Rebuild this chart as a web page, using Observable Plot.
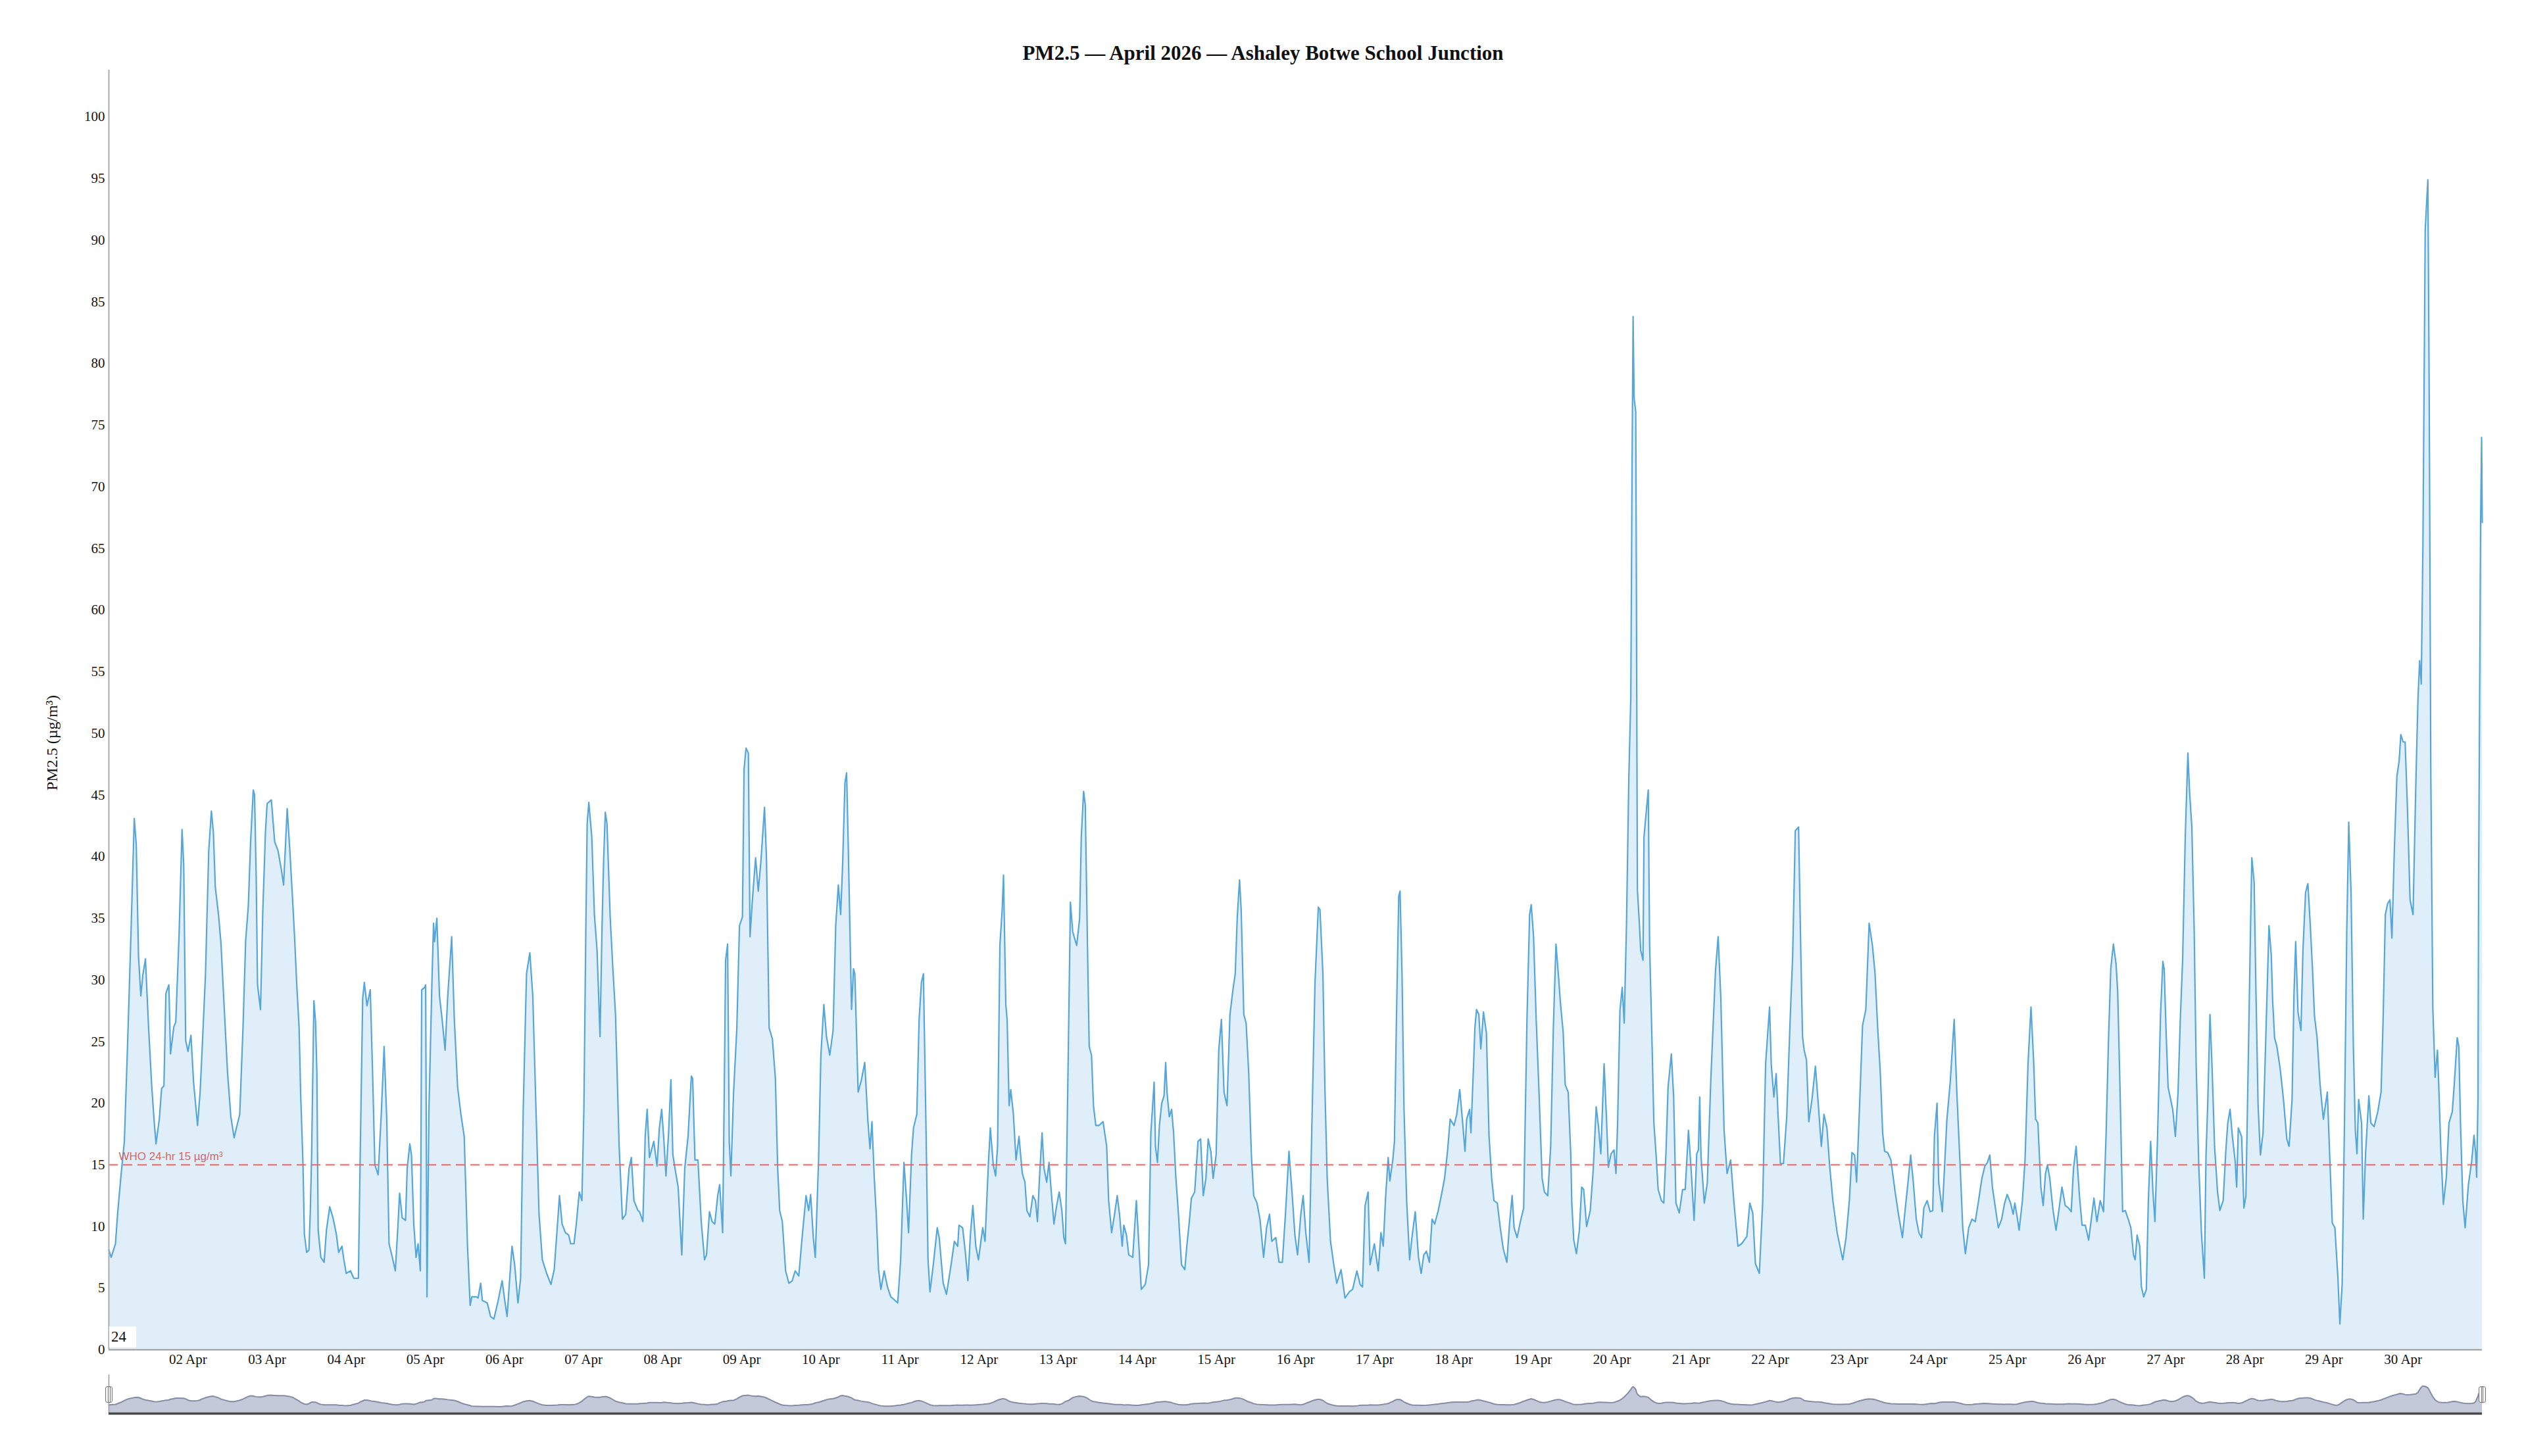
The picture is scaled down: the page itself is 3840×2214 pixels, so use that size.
<!DOCTYPE html>
<html>
<head>
<meta charset="utf-8">
<script src="https://cdn.jsdelivr.net/npm/d3@7"></script>
<script src="https://cdn.jsdelivr.net/npm/@observablehq/plot@0.6"></script>
<style>
  html, body { margin: 0; padding: 0; background: #fff; }
  #wrap { position: relative; width: 3840px; height: 2214px; overflow: hidden; background: #fff; }
  #title { position: absolute; left: 0; top: 64px; width: 3840px; text-align: center;
           font: bold 31px "Liberation Serif", "Times New Roman", serif; line-height: 34px; color: #111; }
  #main { position: absolute; left: 0; top: 0; }
  #nav { position: absolute; left: 0; top: 2085px; }
  .box24 { position: absolute; left: 166px; top: 2017px; width: 41px; height: 32px; background: #fff;
           font: 23px "Liberation Serif", "Times New Roman", serif; line-height: 32px; padding-left: 3px;
           box-sizing: border-box; color: #111; }
  .handle { position: absolute; top: 2108px; width: 11px; height: 25px; box-sizing: border-box;
            border: 1.5px solid #777; border-radius: 3px;
            background: linear-gradient(to right, transparent 3px, #777 3px, #777 4px, transparent 4px,
                        transparent 5.5px, #777 5.5px, #777 6.5px, transparent 6.5px), #f2f2f2; }
</style>
</head>
<body>
<div id="wrap">
  <div id="main"></div>
  <div id="nav"></div>
  <div id="title"></div>
  <div class="box24" id="box24"></div>
  <div class="handle" style="left:160px"></div>
  <div class="handle" style="left:3768px"></div>
</div>
<script>
// ---- Text ----
const chartTitle = "PM2.5 — April 2026 — Ashaley Botwe School Junction";
const yLabel = "PM2.5 (µg/m³)";
const whoLabel = "WHO 24-hr 15 µg/m³";
const whoLimit = 15;
const boxLabel = "24";

// ---- Ticks ----
const yTicks = [0, 5, 10, 15, 20, 25, 30, 35, 40, 45, 50, 55, 60, 65, 70, 75, 80, 85, 90, 95, 100];
const dayTickDays = [2,3,4,5,6,7,8,9,10,11,12,13,14,15,16,17,18,19,20,21,22,23,24,25,26,27,28,29,30];

// ---- Readings: [hours since 01 Apr 2026 00:00, PM2.5 µg/m³] ----
const week1 = [
[0,8.1],[0.7,7.5],[2,8.6],[2.7,11.2],[3.7,14.2],[4.7,16.9],[5.7,25],[6.7,33.7],[7.7,43.1],[8.3,41],[9,31.9],[9.7,28.7],[10.3,30.4],[11.1,31.7],[12,26.4],[13,21.4],[13.7,18.7],[14.3,16.7],[15.3,18.7],[16,21.2],[16.7,21.4],[17.3,28.9],[18.2,29.6],[18.7,24],[19.7,26.2],[20.3,26.6],[21.3,33.7],[22.2,42.2],[22.7,39.4],[23.3,25.1],
[24,24.2],[24.9,25.5],[25.7,21.7],[26.9,18.2],[27.7,21],[28.3,24.4],[29.3,30.4],[30.3,40.5],[31.1,43.7],[31.7,42],[32.3,37.5],[33.3,35.2],[34,33],[35,27.7],[36,22.5],[37,18.9],[38,17.2],[38.7,18],[39.7,19.1],[40.7,26.2],[41.5,33.2],[42.3,36],[43,41.2],[43.8,45.4],[44.2,45],[44.7,38.2],[45.1,29.6],[46,27.6],[46.7,35.6],[47.5,42],
[48,44.3],[49.3,44.6],[50.3,41.2],[51.3,40.5],[52.3,39],[53,37.7],[53.5,40.5],[54.1,43.9],[54.9,40.5],[55.7,36.7],[56.3,33.7],[57,29.6],[57.7,26.2],[58.2,20.6],[58.9,15],[59.3,9.4],[60,7.9],[60.7,8.1],[61.1,11.2],[61.5,15.7],[62.2,28.3],[62.7,26.6],[63.1,22.5],[63.5,9.7],[64.3,7.5],[65.3,7.1],[66,9.7],[67,11.6],[68,10.7],[69,9.4],[69.7,7.9],[70.7,8.4],[71.3,7.3],
[72,6.2],[73.3,6.4],[74.3,5.8],[75.7,5.8],[76.2,15],[77,28.5],[77.5,29.8],[78.3,27.9],[79.3,29.2],[80,22.5],[80.7,15],[81.7,14.2],[82.7,19.5],[83.5,24.6],[84.3,18.7],[85,8.6],[86,7.5],[86.9,6.4],[87.7,10.1],[88.2,12.7],[89,10.7],[90,10.5],[90.5,14.7],[91.3,16.7],[91.8,15.8],[92.5,10.2],[93.2,7.5],[93.8,8.6],[94.5,6.4],[94.9,29.2],[95.8,29.4],
[96.1,29.6],[96.5,4.3],[97.1,19.5],[98,29.8],[98.5,34.6],[98.8,33.1],[99.5,35],[100.3,28.7],[101.1,26.8],[102,24.3],[102.8,28.7],[104,33.5],[104.8,26.8],[105.8,21.3],[106.8,19.1],[107.8,17.3],[108.8,8.4],[109.6,3.6],[110.1,4.3],[111.5,4.3],[112,4.2],[112.8,5.4],[113.3,4.0],[114.8,3.8],[115.8,2.7],[116.8,2.5],[118.1,4.0],[119.3,5.6],
[120.1,4.0],[120.8,2.7],[121.5,5.4],[122.3,8.4],[123.1,6.9],[124.1,3.8],[124.9,5.8],[125.7,19.5],[126.7,30.5],[127.7,32.2],[128.6,28.7],[129.5,20.2],[130.5,11],[131.5,7.3],[132.8,6.2],[134.1,5.3],[135.1,6.5],[136.1,10.2],[136.7,12.5],[137.5,10.2],[138.5,9.5],[139.5,9.3],[140.1,8.6],[141.1,8.6],[141.8,10.2],[142.7,12.8],[143.5,12.1],
[144.1,19.5],[144.7,34.2],[145.1,42.7],[145.6,44.4],[146.5,41.6],[147.3,35.3],[148.1,32.4],[149,25.4],[149.6,34.2],[150.1,39.8],[150.6,43.6],[151.1,42.7],[152.1,35],[152.9,30.9],[153.7,27.2],[154.8,16.5],[155.8,10.6],[156.8,11],[157.8,14.7],[158.5,15.6],[159.3,12.1],[160.5,11.3],[161,11.2],[162,10.4],[162.7,17.3],[163.3,19.5],[164,15.6],[165.3,16.9],[166.3,14.9],[167,18],[167.7,19.5]
];
const week2 = [
[168.3,17.3],[169,14.1],[169.8,17.6],[170.5,21.9],[171.1,15.8],[172,14.3],[172.7,13.2],[173.8,7.7],[174.7,14.7],[175.7,17.3],[176.7,22.2],[177.1,22],[177.8,15.4],[178.7,15.4],[179.7,10.4],[180.7,7.3],[181.3,7.7],[182.2,11.2],[183,10.4],[183.8,10.2],[184.7,12.5],[185.3,13.4],[186.2,9.5],[186.7,21.3],[187.1,31.6],[187.7,32.9],[188.2,16.9],[188.7,14.1],[189.5,20.8],[190.5,26.1],[191.3,34.4],
[192.2,35.1],[192.7,47.1],[193.3,48.8],[194,48.4],[194.5,33.5],[195.3,36.8],[196.2,39.9],[197,37.2],[197.8,39.6],[198.9,44],[199.5,39.8],[200.3,26.1],[201.3,25.2],[202.2,22],[202.9,14.7],[203.5,11.3],[204.3,10.4],[205.3,6.4],[206.3,5.4],[207.3,5.6],[208.2,6.4],[209.3,6.0],[210.3,9.1],[211.5,12.5],[212.3,11.3],[212.9,12.6],[213.7,9.1],[214.3,7.5],[215.3,15.4],
[216,23.9],[216.9,28],[217.7,25.4],[218.7,23.9],[219.7,25.9],[220.5,34.4],[221.3,37.7],[222,35.3],[222.6,39.4],[223.3,46],[223.8,46.8],[224.3,40.9],[225.3,27.6],[225.9,30.9],[226.3,30.5],[227.3,20.9],[228.3,21.9],[229.3,23.3],[230.3,18.4],[230.9,16.3],[231.5,18.5],[232.2,13.9],[232.8,11],[233.5,6.5],[234.2,4.9],[235.2,6.4],[236.2,5.1],[237.2,4.3],[238.5,4.0],[239.3,3.8],
[240.2,7.3],[241.2,15.2],[242,12.1],[242.6,9.5],[243.5,15.8],[244.1,18],[245.1,19.1],[245.8,26.8],[246.5,29.8],[247.1,30.5],[247.8,19.5],[248.5,7.3],[249.1,4.7],[250.1,6.9],[251.3,9.9],[251.9,9.1],[253.1,5.4],[254.1,4.5],[255.5,6.9],[256.5,8.8],[257.5,8.4],[257.9,10.1],[259,9.9],[259.8,8],[260.6,5.6],[261.4,9.5],[262.1,11.7],[263,8.4],[263.8,7.3],
[265.1,9.9],[265.8,8.8],[266.8,15],[267.4,18],[268.3,15],[269,14.1],[269.6,16.5],[270.3,32.8],[271,35.7],[271.4,38.5],[272.1,28],[272.5,26.8],[273.1,19.8],[273.6,21.1],[274.4,19.1],[275.2,15.4],[276.1,17.3],[277.1,14.3],[277.9,13.6],[278.5,11.3],[279.4,10.8],[280.3,12.5],[281.1,12.1],[281.7,10.4],[282.3,13.9],[283.1,17.6],[283.7,14.7],[284.5,13.6],[285.2,15.2],[285.9,12.8],[286.7,10.2],[287.4,11.5],
[288.3,12.8],[289.1,11.3],[289.7,9.1],[290.2,8.6],[291.1,25],[291.7,36.3],[292.4,33.9],[293.6,32.8],[294.5,35],[295,41.6],[295.7,45.3],[296.2,44.2],[296.9,32.4],[297.4,24.6],[298.1,23.9],[298.7,19.8],[299.4,18.2],[300.4,18.2],[301.6,18.5],[302.7,16.5],[303.3,12.1],[304.2,9.5],[305.1,11],[305.9,12.5],[306.6,11],[307.4,8.4],[307.9,10.1],[308.7,9.3],[309.4,7.7],[310.6,7.5],[311.7,12.1],
[312.4,8.8],[313.2,4.9],[314.4,5.3],[315.4,6.9],[316.1,17.6],[317.1,21.7],[317.5,16.5],[318.1,15.2],[318.7,18.2],[319.4,20],[320.1,20.6],[320.6,23.3],[321,20.9],[321.7,18.9],[322.4,19.5],[323,17.6],[323.7,13.9],[324.4,11.3],[325.4,6.9],[326.4,6.5],[327,8.4],[327.7,10.2],[328.4,12.3],[329.4,12.8],[330.4,16.9],[331.2,17.1],[332,12.5],[332.8,13.9],[333.5,17.1],[334.3,16.1],[335,13.9],[335.9,15.8]
];
const week3 = [
[336.7,24.3],[337.5,26.8],[338.3,20.9],[339.2,19.8],[340.1,27.2],[341,29.2],[341.7,30.5],[342.3,35],[343,38.1],[343.5,35.7],[344.3,27.2],[345,26.5],[345.8,22.4],[346.6,15.8],[347.3,12.5],[348.3,11.9],[349.2,10.6],[350.3,7.5],[351.2,9.9],[352.1,11],[352.8,8.8],[354,9.1],[355,7.1],[356,7.1],[357,11.3],[358,16.1],[359,12.5],[359.8,9.3],
[360.6,7.7],[361.6,11],[362.3,12.5],[363.1,9.5],[364.1,7.1],[364.9,17.6],[365.9,29.8],[366.9,35.9],[367.4,35.7],[368.3,30.5],[368.9,21.3],[369.6,13.9],[370.6,8.8],[371.6,6.9],[372.5,5.4],[373.8,6.5],[375,4.2],[376.3,4.7],[377.3,4.9],[378.6,6.4],[379.6,5.3],[380.3,5.1],[381.1,11.7],[382,12.8],[382.6,6.9],[383.9,8.6],
[385.1,6.4],[385.9,9.5],[386.6,8.4],[387.3,12.3],[388.1,15.6],[388.6,13.7],[389.5,15.4],[390,16.9],[390.6,26.8],[391.3,36.8],[391.7,37.2],[392.3,30.5],[392.9,19.5],[393.7,12.1],[394.6,7.3],[395.3,9.1],[396.3,11.2],[397.3,7.5],[398.1,6.2],[398.9,7.7],[399.7,8],[400.6,7.1],[401.4,10.6],[402.2,10.2],[403.2,11.2],[404.2,12.5],[405.2,13.9],[406.1,16.1],[406.9,18.7],
[408.1,18.2],[408.9,19.1],[409.8,21.1],[410.6,18.7],[411.4,16.1],[411.9,18.7],[412.8,19.5],[413.2,17.6],[413.9,22.4],[414.4,26.1],[414.9,27.6],[415.6,27.2],[416.2,24.4],[417,27.4],[417.9,25.7],[418.7,17.3],[419.5,13.9],[420.2,12.1],[421.2,11.9],[422.1,9.9],[423,8.2],[424.1,7.1],[424.9,10.2],[425.7,12.5],[426.3,9.9],[427.2,9.1],[428.2,10.4],[429.2,11.5],
[430.2,26.8],[431,35.3],[431.5,36.1],[432.2,33.5],[433,26.8],[433.8,21.3],[434.8,13.9],[435.5,12.8],[436.5,12.5],[437.4,16.5],[438.2,26.1],[439,32.9],[439.8,30.2],[440.3,28.3],[441.2,25.7],[441.8,21.5],[442.7,20.9],[443.5,15.8],[443.8,11.9],[444.4,8.9],[445.2,7.8],[446.1,9.7],[446.8,13.2],[447.4,13],[448.3,10],[449.4,11.3],[450.3,14.6],[451.2,19.7],[451.9,18.1],[452.6,15.9],[453.6,23.2],[454.3,18.9],[454.9,14.8],[455.7,15.9],
[456.6,16.2],[457.2,14.3],[457.7,18.4],[458.4,27.5],[459.1,29.4],[459.7,26.5],[460.4,34.6],[461.1,46.4],[461.7,52.9],[462.1,72.4],[462.4,83.8],[462.7,77.2],[463.2,76.1],[463.4,61.6],[463.7,37.3],[464.3,34.6],[464.7,32.4],[465.4,31.6],[465.7,41.6],[466.4,43.7],[467,45.4],[467.4,32.9],[468,26.5],[468.7,18.4],[469.4,15.7],[470,13],[471,12.1],[471.7,11.9],[472.4,16.2],[473,21.3],[474,24],[474.7,20.5],[475.4,11.9],[476.4,11.1],[477.4,13],[478.2,13],[479.2,17.8],
[480,14.6],[480.9,10.5],[481.7,15.9],[482.2,16.2],[482.6,20.5],[483,15.7],[484,11.9],[484.9,13.5],[486,22.1],[487.4,30.8],[488.2,33.5],[489,28.6],[490,17.8],[490.9,14.3],[492,15.4],[493,11.9],[494.2,8.4],[495.3,8.6],[496.9,9.2],[497.8,11.9],[498.7,11.1],[499.5,7.0],[500.7,6.2],[501.7,11.9],[502.6,23.2],[503.3,25.9],[503.8,27.8]
];
const week4 = [
[504.3,23.2],[505.1,20.5],[505.8,22.4],[506.4,18.9],[507.1,15.1],[508,15.1],[509,18.9],[510,26.5],[510.8,31.9],[511.6,42.1],[512.6,42.4],[513.3,31.9],[513.8,25.4],[514.3,24.3],[515,23.5],[515.7,18.5],[516.7,20.4],[517.7,23],[518.5,20.2],[519.5,16.5],[520.3,19.1],[521.2,18],[522,15],[523,12.1],[524.3,9.5],[526,7.3],[527,9.1],
[528,12.1],[528.8,16],[529.6,15.8],[530.2,13.6],[531,19.1],[532,26.3],[533,27.6],[534,34.6],[535,32.8],[535.8,30.5],[536.6,26.1],[537.4,22.4],[538.1,17.6],[538.7,16.1],[539.6,16],[540.6,15.4],[541.9,12.8],[542.9,11],[544.1,9.1],[544.9,11.3],[545.8,13.6],[546.6,15.8],[547.4,13.6],[548.3,10.6],[549.1,9.5],[549.9,9.1],[550.6,11.5],[551.6,12.1],
[552.5,11.2],[553.3,11.3],[553.8,17.3],[554.6,20],[555.1,13.6],[556.2,11.2],[557.6,18.7],[558.6,21.7],[559.8,26.8],[560.6,20.9],[561.6,15],[562.4,9.9],[563.2,7.8],[564.2,9.9],[565.2,10.6],[566.2,10.4],[567.2,12.1],[568.2,13.9],[569.1,14.9],[569.9,15.2],[570.6,15.8],[571.4,13.2],[572.2,11.7],[573.2,9.9],[574.2,10.6],[575.1,11.9],
[575.9,12.6],[576.9,11.9],[577.7,11],[578.2,11.9],[578.9,10.8],[579.5,9.7],[580.5,12.1],[581.3,15.4],[582.2,23.2],[583.1,27.8],[583.9,23.5],[584.5,18.7],[585.2,18.4],[586.1,13.2],[586.8,11.7],[587.5,14.3],[588.1,15],[588.8,13.9],[589.8,11.3],[590.7,9.7],[591.5,11.2],[592.5,13.2],[593.5,11.7],[594.5,11.5],[595.3,11.2],[596,14.7],[596.8,16.5],[597.8,12.5],[598.6,10.1],[599.6,10.1],
[600.6,8.9],[601.4,10.6],[602.2,12.3],[603.1,10.4],[604.1,12.1],[605.1,11.2],[605.9,17.6],[606.6,25],[607.3,30.9],[608.1,32.9],[608.9,31.3],[609.4,29.1],[610.1,21.3],[610.9,11.2],[611.7,11.3],[612.6,10.6],[613.4,9.9],[614.2,7.7],[614.7,7.3],[615.3,9.3],[616.1,8.4],[616.6,5.1],[617.3,4.3],[618.1,4.9],[618.7,12.1],[619.4,16.9],[620.1,12.8],[620.7,10.4],[621.5,17.3],[622.4,27.2],[623.1,31.5],
[623.5,30.9],[624.1,25.7],[624.7,21.3],[625.4,20.4],[626.1,19.5],[626.9,17.3],[627.7,20.8],[628.4,26.8],[629.1,31.6],[629.9,41.6],[630.7,48.4],[631.2,45.3],[631.9,42.4],[632.6,34.2],[633.2,23.2],[634,15],[634.8,9.5],[635.7,5.8],[636.2,15.8],[636.7,19.8],[637.4,27.2],[638,23.2],[638.8,16.5],[639.7,12.8],[640.4,11.3],[641.4,12.1],[642.2,16.1],[642.8,18.4],[643.5,19.5],[644.2,17.3],[645,15.4],[645.5,13.2],[646,18],[647,17.3],
[647.7,11.5],[648.3,12.5],[649,23.2],[649.7,34.2],[650.1,39.9],[650.8,37.9],[651.3,29.8],[652,19.8],[652.7,15.8],[653.5,17.6],[654.3,25],[655.3,34.4],[656,32],[656.4,28.4],[657,25.3],[657.7,24.6],[658.7,22.8],[659.7,20.3],[660.7,17.1],[661.4,16.5],[662.3,20.3],[662.9,29],[663.4,33.1],[664.1,27.4],[665,25.9],[665.6,32.4],[666.4,37.1],[667.1,37.8],[667.8,34.6],[668.5,30.9],[669.1,27.1],[669.9,25.3],[670.8,21.5],[671.8,18.7]
];
const week5 = [
[673,20.9],[673.7,15.9],[674.5,10.3],[675.3,9.9],[676.2,5.9],[676.8,2.1],[677.5,5.3],[678.2,18.4],[678.9,34],[679.5,42.8],[680.2,37.1],[680.9,24.6],[681.5,17.8],[682,15.9],[682.5,20.3],[683.4,18.4],[683.9,10.6],[684.6,15.9],[685.6,20.6],[686.2,18.4],[687.2,18.1],[688.3,19.3],[689.3,20.9],[689.9,26.5],[690.6,35.3],[691.3,36.2],[692,36.5],[692.6,33.4],[693.3,40.3],[694.1,46.5],[694.8,47.8],[695.3,49.9],
[696,49.3],[696.6,49.3],[697.3,44],[698.1,36.5],[699,35.3],[699.9,46.5],[700.5,52.8],[701,55.9],[701.5,54],[702,65.3],[702.7,90.9],[703.5,94.9],[703.9,77.8],[704.4,46.5],[705,27.8],[705.7,22.1],[706.4,24.3],[706.8,21.5],[707.4,16.5],[708.2,11.8],[709.1,14],[709.9,18.4],[710.9,19.3],[711.5,21.5],[712.4,25.3],[712.9,24.6],[713.4,18.4],[714.1,12.1],[714.8,9.9],[715.8,13.4],[716.8,15.3],[717.5,17.4],[718,15.9],[718.3,14],[718.7,20.3],[718.9,38.4],[719.5,67.1],[719.8,74],[720,67.1]
];

// ---- Build table ----
const startMs = Date.UTC(2026, 3, 1);
const endMs = Date.UTC(2026, 4, 1);
const data = [...week1, ...week2, ...week3, ...week4, ...week5]
  .map(([h, v]) => ({date: new Date(startMs + h * 3600e3), value: v}));
const xDomain = [new Date(startMs), new Date(endMs)];
const dayTicks = dayTickDays.map(d => new Date(Date.UTC(2026, 3, d)));
const yDomain = [0, 103.8];

document.getElementById("title").textContent = chartTitle;
document.getElementById("box24").textContent = boxLabel;

const serif = '"Liberation Serif", "Times New Roman", serif';
const lineColor = "#55a6db";
const fillColor = "#e0eefa";

const main = Plot.plot({
  width: 3840,
  height: 2100,
  marginTop: 106,
  marginBottom: 48,
  marginLeft: 165,
  marginRight: 67,
  style: {fontFamily: serif, fontSize: "21px", color: "#111", background: "transparent"},
  x: {type: "utc", domain: xDomain},
  y: {domain: yDomain},
  marks: [
    Plot.areaY(data, {x: "date", y: "value", fill: fillColor}),
    Plot.lineY(data, {x: "date", y: "value", stroke: lineColor, strokeWidth: 2.2, strokeLinejoin: "round"}),
    Plot.ruleY([whoLimit], {stroke: "#e06a6a", strokeOpacity: 0.8, strokeWidth: 2.5, strokeDasharray: "14,8"}),
    Plot.text([whoLabel], {text: d => d, y: () => whoLimit, frameAnchor: "left", dx: 15, dy: -7,
      textAnchor: "start", lineAnchor: "bottom", fill: "#d06868",
      fontFamily: '"Liberation Sans", Arial, sans-serif', fontSize: 17}),
    Plot.ruleY([0], {stroke: "#999", strokeWidth: 2}),
    Plot.ruleX([xDomain[0]], {stroke: "#aaa", strokeWidth: 2}),
    Plot.axisX({ticks: dayTicks, tickFormat: d3.utcFormat("%d Apr"), tickSize: 0, tickPadding: 7, label: null}),
    Plot.axisY({ticks: yTicks, tickSize: 0, tickPadding: 6, label: null}),
    Plot.text([yLabel], {text: d => d, frameAnchor: "left", rotate: -90, dx: -86, dy: 50, textAnchor: "middle",
      fontSize: 24, fontFamily: serif, fill: "#111"})
  ]
});
document.getElementById("main").appendChild(main);

// ---- Navigator ----
const navDomain = [-20, 111];
const nav = Plot.plot({
  width: 3840,
  height: 70,
  marginTop: 5,
  marginBottom: 6,
  marginLeft: 165,
  marginRight: 67,
  style: {background: "transparent"},
  x: {type: "utc", domain: xDomain, axis: null},
  y: {domain: navDomain, axis: null, clamp: true},
  marks: [
    Plot.areaY(data, Plot.windowY({k: 6, reduce: "mean"},
      {x: "date", y1: navDomain[0], y2: "value", fill: "#c3c9d9"})),
    Plot.lineY(data, Plot.windowY({k: 6, reduce: "mean"},
      {x: "date", y: "value", stroke: "#858ca3", strokeWidth: 2})),
    Plot.ruleX([xDomain[0]], {stroke: "#999", strokeWidth: 1.5}),
    Plot.ruleY([navDomain[0]], {stroke: "#4a4a4a", strokeWidth: 3.5})
  ]
});
document.getElementById("nav").appendChild(nav);
</script>
</body>
</html>
